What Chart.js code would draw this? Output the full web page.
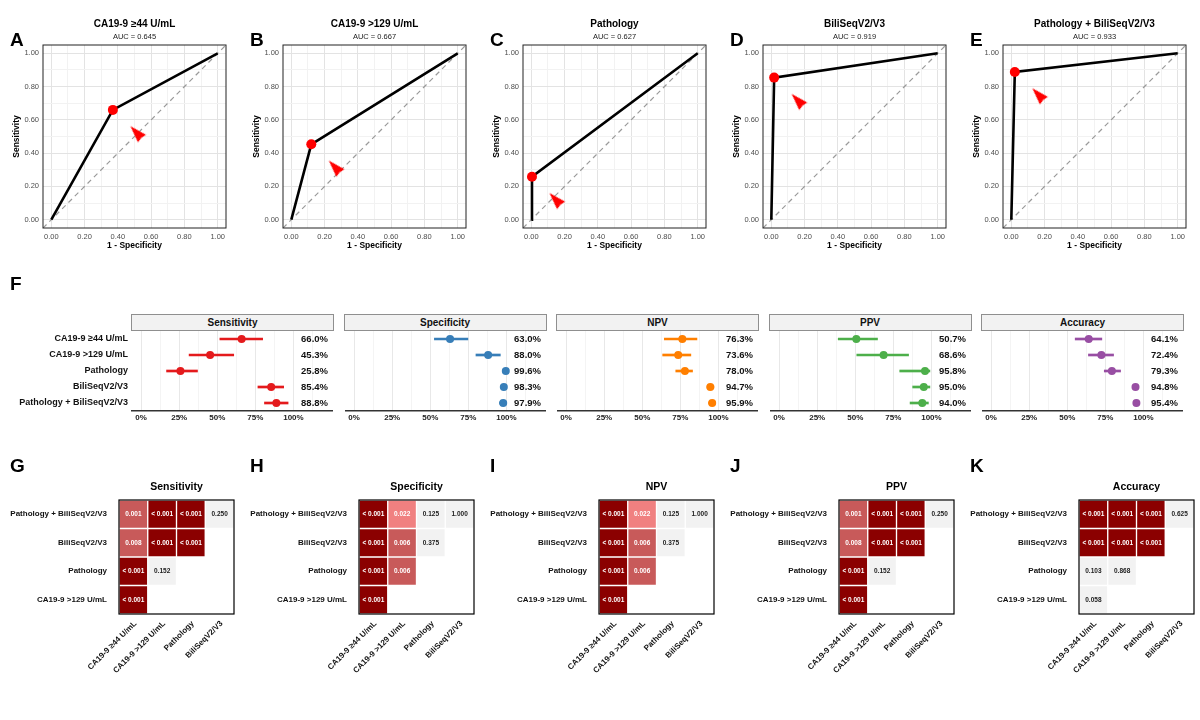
<!DOCTYPE html>
<html>
<head>
<meta charset="utf-8">
<script src="https://cdn.jsdelivr.net/npm/chart.js@4.4.1/dist/chart.umd.min.js"></script>
<style>
  body { margin: 0; background: #fff; font-family: "Liberation Sans", Arial, sans-serif; }
  #fig { position: relative; width: 1200px; height: 720px; overflow: hidden; background: #fff; }
  #fig canvas { position: absolute; }
  .tag { position: absolute; font-weight: bold; font-size: 19px; line-height: 19px; color: #000; }
  .strip { position: absolute; height: 15px; line-height: 15px; background: #f2f2f2; border: 1px solid #8f8f8f;
           box-sizing: content-box; text-align: center; font-weight: bold; font-size: 10px; color: #111; }
</style>
</head>
<body>
<div id="fig"></div>
<script>
// tests in the order of panels A-E and rows of F
const tests = ['CA19-9 ≥44 U/mL', 'CA19-9 >129 U/mL', 'Pathology', 'BiliSeqV2/V3', 'Pathology + BiliSeqV2/V3'];
const aucVals = [0.645, 0.667, 0.627, 0.919, 0.933];

// F: point estimates and 95% CI (percent)
const metrics = ['Sensitivity', 'Specificity', 'NPV', 'PPV', 'Accuracy'];
const sensVal = [66.0, 45.3, 25.8, 85.4, 88.8];
const sensLo  = [51.7, 31.5, 16.7, 76.7, 81.0];
const sensHi  = [79.8, 60.8, 37.0, 93.6, 96.5];
const specVal = [63.0, 88.0, 99.6, 98.3, 97.9];
const specLo  = [52.7, 80.0, 98.0, 96.8, 95.5];
const specHi  = [74.7, 96.0, 100.0, 99.5, 99.2];
const npvVal  = [76.3, 73.6, 78.0, 94.7, 95.9];
const npvLo   = [64.5, 63.4, 72.0, 92.5, 93.6];
const npvHi   = [85.9, 81.9, 83.0, 97.0, 98.0];
const ppvVal  = [50.7, 68.6, 95.8, 95.0, 94.0];
const ppvLo   = [38.8, 51.0, 79.2, 87.7, 86.0];
const ppvHi   = [64.6, 85.0, 99.0, 99.0, 98.0];
const accVal  = [64.1, 72.4, 79.3, 94.8, 95.4];
const accLo   = [55.2, 63.9, 74.3, 93.0, 93.6];
const accHi   = [72.7, 80.4, 85.0, 96.5, 97.0];

// G-K: pairwise p-values, rows top to bottom, columns left to right
const hmRows = ['Pathology + BiliSeqV2/V3', 'BiliSeqV2/V3', 'Pathology', 'CA19-9 >129 U/mL'];
const hmCols = ['CA19-9 ≥44 U/mL', 'CA19-9 >129 U/mL', 'Pathology', 'BiliSeqV2/V3'];
const pSens = [['0.001', '< 0.001', '< 0.001', '0.250'], ['0.008', '< 0.001', '< 0.001'], ['< 0.001', '0.152'], ['< 0.001']];
const pSpec = [['< 0.001', '0.022', '0.125', '1.000'], ['< 0.001', '0.006', '0.375'], ['< 0.001', '0.006'], ['< 0.001']];
const pNpv  = [['< 0.001', '0.022', '0.125', '1.000'], ['< 0.001', '0.006', '0.375'], ['< 0.001', '0.006'], ['< 0.001']];
const pPpv  = [['0.001', '< 0.001', '< 0.001', '0.250'], ['0.008', '< 0.001', '< 0.001'], ['< 0.001', '0.152'], ['< 0.001']];
const pAcc  = [['< 0.001', '< 0.001', '< 0.001', '0.625'], ['< 0.001', '< 0.001', '< 0.001'], ['0.103', '0.868'], ['0.058']];

const forestVal = [sensVal, specVal, npvVal, ppvVal, accVal];
const forestLo = [sensLo, specLo, npvLo, ppvLo, accLo];
const forestHi = [sensHi, specHi, npvHi, ppvHi, accHi];
const forestCol = ['#e41a1c', '#377eb8', '#ff7f00', '#4daf4a', '#984ea3'];
const heatP = [pSens, pSpec, pNpv, pPpv, pAcc];

Chart.defaults.font.family = '"Liberation Sans", Arial, sans-serif';
Chart.defaults.animation = false;
Chart.defaults.color = '#333';
Chart.defaults.layout.autoPadding = false;

const fig = document.getElementById('fig');

function addCanvas(left, top, w, h) {
    const c = document.createElement('canvas');
    c.width = w; c.height = h;
    c.style.left = left + 'px'; c.style.top = top + 'px';
    c.style.width = w + 'px'; c.style.height = h + 'px';
    fig.appendChild(c);
    return c;
}

function addTag(text, left, top) {
    const d = document.createElement('div');
    d.className = 'tag';
    d.textContent = text;
    d.style.left = left + 'px'; d.style.top = top + 'px';
    fig.appendChild(d);
}

// frame round the plotting area
const panelBox = {
    id: 'panelBox',
    afterDatasetsDraw(chart, args, opts) {
        const a = chart.chartArea, ctx = chart.ctx;
        ctx.save();
        ctx.strokeStyle = opts.color || '#000';
        ctx.lineWidth = opts.width || 1;
        ctx.strokeRect(a.left, a.top, a.right - a.left, a.bottom - a.top);
        ctx.restore();
    }
};

function arrowHead() {
    const c = document.createElement('canvas');
    c.width = 20; c.height = 20;
    const g = c.getContext('2d');
    g.fillStyle = '#ff0000';
    g.beginPath();
    g.moveTo(10, 1.5); g.lineTo(15.5, 18.5); g.lineTo(10, 17.5); g.lineTo(4.5, 18.5);
    g.closePath(); g.fill();
    return c;
}
const arrowImg = arrowHead();
const arrowDx = 0.14, arrowDy = -0.135;

// ---------- A-E: ROC ----------
const rocMin = -0.05, rocMax = 1.05;
const rocTicks = Array.from({length: 11}, (_, k) => k / 10);
const isMajor = v => Math.round(v * 10) % 2 === 0;

function rocChart(i) {
    const fpr = 1 - specVal[i] / 100;
    const sens = sensVal[i] / 100;
    const cv = addCanvas(i * 240, 0, 240, 256);
    const axisBase = {
        type: 'linear', min: rocMin, max: rocMax,
        afterBuildTicks: a => { a.ticks = rocTicks.map(v => ({value: v})); },
        ticks: {callback: v => isMajor(v) ? v.toFixed(2) : '', font: {size: 7.5}, color: '#4d4d4d', padding: 4,
                autoSkip: false, maxRotation: 0, minRotation: 0},
        grid: {color: c => isMajor(c.tick.value) ? '#e3e3e3' : '#f2f2f2', drawTicks: false},
        border: {display: false}
    };
    new Chart(cv, {
        type: 'scatter',
        data: {
            datasets: [
                {type: 'line', data: [{x: rocMin, y: rocMin}, {x: rocMax, y: rocMax}], borderColor: '#9a9a9a',
                 borderDash: [5, 4], borderWidth: 1.2, pointRadius: 0, order: 3},
                {type: 'line', data: [{x: 0, y: 0}, {x: fpr, y: sens}, {x: 1, y: 1}], borderColor: '#000',
                 borderWidth: 2.6, pointRadius: 0, order: 2},
                {data: [{x: fpr + arrowDx, y: sens + arrowDy}], pointStyle: arrowImg, rotation: -43, pointRadius: 10, order: 1},
                {data: [{x: fpr, y: sens}], backgroundColor: '#ff0000', borderWidth: 0, pointRadius: 5, order: 0}
            ]
        },
        options: {
            responsive: false,
            layout: {padding: {top: 0, right: 14, left: 0, bottom: 0}},
            plugins: {
                legend: {display: false},
                tooltip: {enabled: false},
                title: {display: true, text: tests[i], fullSize: false, color: '#000',
                        font: {size: 10, weight: 'bold'}, padding: {top: 18, bottom: 0}},
                subtitle: {display: true, text: 'AUC = ' + aucVals[i].toFixed(3), fullSize: false, color: '#222',
                           font: {size: 7.5}, padding: {top: 2, bottom: 4}},
                panelBox: {color: '#222', width: 1}
            },
            scales: {
                x: Object.assign({}, axisBase, {
                    title: {display: true, text: '1 - Specificity', color: '#000', font: {size: 8.5, weight: 'bold'}, padding: {top: 0, bottom: 5}},
                    afterFit: a => { a.height = 28; }
                }),
                y: Object.assign({}, axisBase, {
                    title: {display: true, text: 'Sensitivity', color: '#000', font: {size: 8.5, weight: 'bold'}, padding: {top: 12, bottom: 0}},
                    afterFit: a => { a.width = 43; }
                })
            }
        },
        plugins: [panelBox]
    });
    addTag(String.fromCharCode(65 + i), 10 + i * 240, 30);
}

// ---------- F: forest ----------
const forestTicks = [0, 12.5, 25, 37.5, 50, 62.5, 75, 87.5, 100, 112.5];

// value text at the right of each row, test names at the left of the first panel
const rowText = {
    id: 'rowText',
    afterDatasetsDraw(chart, args, opts) {
        const ctx = chart.ctx, ys = chart.scales.y, a = chart.chartArea;
        ctx.save();
        ctx.textBaseline = 'middle';
        ctx.textAlign = 'right';
        ctx.fillStyle = '#111';
        ctx.font = 'bold 9.5px "Liberation Sans", Arial, sans-serif';
        opts.values.forEach((v, k) => ctx.fillText(v.toFixed(1) + '%', a.right - 5, ys.getPixelForValue(k)));
        if (opts.names) {
            ctx.font = 'bold 9px "Liberation Sans", Arial, sans-serif';
            chart.data.labels.forEach((t, k) => ctx.fillText(t, a.left - 4, ys.getPixelForValue(k)));
        }
        ctx.restore();
    }
};

function forestChart(m) {
    const panelLeft = 132 + m * 212.5;
    const first = m === 0;
    const left = first ? 0 : panelLeft;
    const w = first ? panelLeft + 201 : 201;
    const cv = addCanvas(left, 331, w, 100);
    const col = forestCol[m];
    new Chart(cv, {
        type: 'bar',
        data: {
            labels: tests,
            datasets: [
                {type: 'line', indexAxis: 'y', data: forestVal[m], showLine: false, pointRadius: 4,
                 pointBackgroundColor: col, pointBorderWidth: 0, order: 0},
                {type: 'bar', data: forestLo[m].map((lo, k) => [lo, forestHi[m][k]]), backgroundColor: col,
                 barThickness: 2, order: 1}
            ]
        },
        options: {
            responsive: false,
            indexAxis: 'y',
            layout: {padding: {left: first ? panelLeft : 0, top: 0, right: 0, bottom: 0}},
            plugins: {
                legend: {display: false},
                tooltip: {enabled: false},
                rowText: {values: forestVal[m], names: first}
            },
            scales: {
                x: {
                    type: 'linear', min: -6, max: 126,
                    afterBuildTicks: a => { a.ticks = forestTicks.map(v => ({value: v})); },
                    ticks: {callback: v => (v % 25 === 0 && v <= 100) ? v + '%' : '', font: {size: 8, weight: 'bold'},
                            color: '#222', padding: 2, autoSkip: false, maxRotation: 0, minRotation: 0},
                    grid: {color: c => c.tick.value % 25 === 0 ? '#e8e8e8' : '#f4f4f4', drawTicks: false},
                    border: {display: true, color: '#333', width: 1.5},
                    afterFit: a => { a.height = 20; }
                },
                y: {display: false}
            }
        },
        plugins: [rowText]
    });
    const s = document.createElement('div');
    s.className = 'strip';
    s.textContent = metrics[m];
    s.style.left = (panelLeft - 1) + 'px';
    s.style.top = '314px';
    s.style.width = '201px';
    fig.appendChild(s);
}

// ---------- G-K: p-value heatmaps ----------
function pNum(s) { return s.charAt(0) === '<' ? 0.0005 : parseFloat(s); }
function pColor(s) {
    const p = pNum(s);
    if (p < 0.001) return '#8b0000';
    if (p < 0.01) return '#c85a5a';
    if (p < 0.05) return '#f08080';
    return '#f2f2f2';
}

const cellLabels = {
    id: 'cellLabels',
    afterDatasetsDraw(chart, args, opts) {
        const ctx = chart.ctx;
        ctx.save();
        ctx.font = 'bold 6.5px "Liberation Sans", Arial, sans-serif';
        ctx.textAlign = 'center';
        ctx.textBaseline = 'middle';
        opts.p.forEach((row, r) => {
            const meta = chart.getDatasetMeta(r);
            row.forEach((txt, j) => {
                const el = meta.data[j];
                const {x, y, base} = el.getProps(['x', 'y', 'base'], true);
                ctx.fillStyle = pNum(txt) < 0.05 ? '#fff' : '#222';
                ctx.fillText(txt, x, (y + base) / 2);
            });
        });
        ctx.restore();
    }
};

function heatChart(m) {
    const pv = heatP[m];
    const nR = hmRows.length;
    const cv = addCanvas(m * 240, 470, 240, 250);
    new Chart(cv, {
        type: 'bar',
        data: {
            labels: hmCols,
            datasets: hmRows.map((row, r) => ({
                label: row,
                data: hmCols.map((c, j) => j < pv[r].length ? [nR - 1 - r, nR - r] : null),
                backgroundColor: hmCols.map((c, j) => j < pv[r].length ? pColor(pv[r][j]) : 'rgba(0,0,0,0)'),
                borderColor: '#fff', borderWidth: 1, borderSkipped: false, grouped: false,
                categoryPercentage: 1, barPercentage: 1
            }))
        },
        options: {
            responsive: false,
            layout: {padding: {top: 0, right: 6, left: 0, bottom: 0}},
            plugins: {
                legend: {display: false},
                tooltip: {enabled: false},
                title: {display: true, text: metrics[m], fullSize: false, color: '#000',
                        font: {size: 10.5, weight: 'bold'}, padding: {top: 10.7, bottom: 6.7}},
                panelBox: {color: '#000', width: 1.2},
                cellLabels: {p: pv}
            },
            scales: {
                x: {
                    ticks: {font: {size: 8, weight: 'bold'}, color: '#111', minRotation: 45, maxRotation: 45,
                            padding: -3, labelOffset: 2, autoSkip: false},
                    grid: {display: false},
                    border: {display: false},
                    afterFit: a => { a.height = 106; }
                },
                y: {
                    type: 'linear', min: 0, max: nR,
                    afterBuildTicks: a => { a.ticks = hmRows.map((r, k) => ({value: k + 0.5})); },
                    ticks: {callback: v => hmRows[nR - 1 - Math.floor(v)], font: {size: 8, weight: 'bold'}, color: '#111', padding: 4, autoSkip: false},
                    grid: {display: false},
                    border: {display: false},
                    afterFit: a => { a.width = 119; }
                }
            }
        },
        plugins: [panelBox, cellLabels]
    });
    addTag(String.fromCharCode(71 + m), 10 + m * 240, 456);
}

for (let i = 0; i < tests.length; i++) rocChart(i);
for (let m = 0; m < metrics.length; m++) forestChart(m);
for (let m = 0; m < metrics.length; m++) heatChart(m);
addTag('F', 10, 274);
</script>
</body>
</html>
